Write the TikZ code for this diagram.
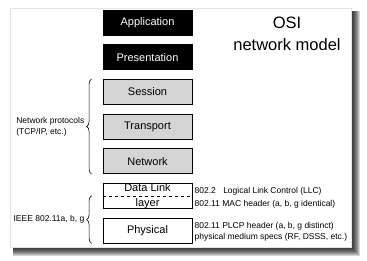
\documentclass[tikz,border=0pt]{standalone}
\usepackage{fontspec}
\setmainfont{Liberation Sans}
\usetikzlibrary{decorations.pathreplacing}

\begin{document}
\begin{tikzpicture}[x=1pt,y=-1pt,
  osibox/.style={draw,line width=.8pt,minimum width=89pt,minimum height=25pt,
    inner sep=0pt,font=\fontsize{11}{15}\selectfont},
  darkbox/.style={osibox,fill=black,text=white},
  greybox/.style={osibox,fill=black!17},
  whitebox/.style={osibox,fill=white},
  brace/.style={decorate,decoration={brace,amplitude=5pt},line width=.6pt},
  note/.style={font=\fontsize{8.5}{11}\selectfont,inner sep=0pt,align=left}]
  \useasboundingbox (0,0) rectangle (367,261);
  % card with its shadow
  \foreach \i in {1,...,10}
    \fill[black,opacity=.16] (13,11) rectangle (350+\i,246+\i);
  \fill[white,draw=black!10] (10,8) rectangle (351,247);
  % the seven layers
  \node[darkbox] (app) at (147.5,22.5) {Application};
  \node[darkbox] (pres) at (147.5,57.2) {Presentation};
  \node[greybox] (sess) at (147.5,91.8) {Session};
  \node[greybox] (trans) at (147.5,126.5) {Transport};
  \node[greybox] (net) at (147.5,161.2) {Network};
  \node[whitebox,align=center] (dll) at (147.5,195.8) {Data Link\\layer};
  \node[whitebox] (phys) at (147.5,230.5) {Physical};
  \draw[dashed,line width=.7pt] ([yshift=-1pt]dll.west) -- ([yshift=-1pt]dll.east);
  % title
  \node[align=center,font=\fontsize{16.5}{22}\selectfont] (title) at (287,34)
    {OSI\\network model};
  % braces on the left
  \draw[brace] ([xshift=-11pt]net.south west) --
    node[note,left=7pt] (tcp) {Network protocols\\(TCP/IP, etc.)}
    ([xshift=-11pt]sess.north west);
  \draw[brace] ([xshift=-11pt]phys.south west) --
    node[note,left=7pt] (ieee) {IEEE 802.11a, b, g}
    ([xshift=-11pt]dll.west);
  % notes on the right
  \node[note,anchor=west,font=\fontsize{8.5}{13}\selectfont] (llc)
    at ([xshift=2pt,yshift=-1.7pt]dll.east)
    {802.2\hspace{0.87em}Logical Link Control (LLC)\\802.11 MAC header (a, b, g identical)};
  \node[note,anchor=west] (plcp) at ([xshift=2pt,yshift=-1pt]phys.east)
    {802.11 PLCP header (a, b, g distinct)\\physical medium specs (RF, DSSS, etc.)};
\end{tikzpicture}
\end{document}
